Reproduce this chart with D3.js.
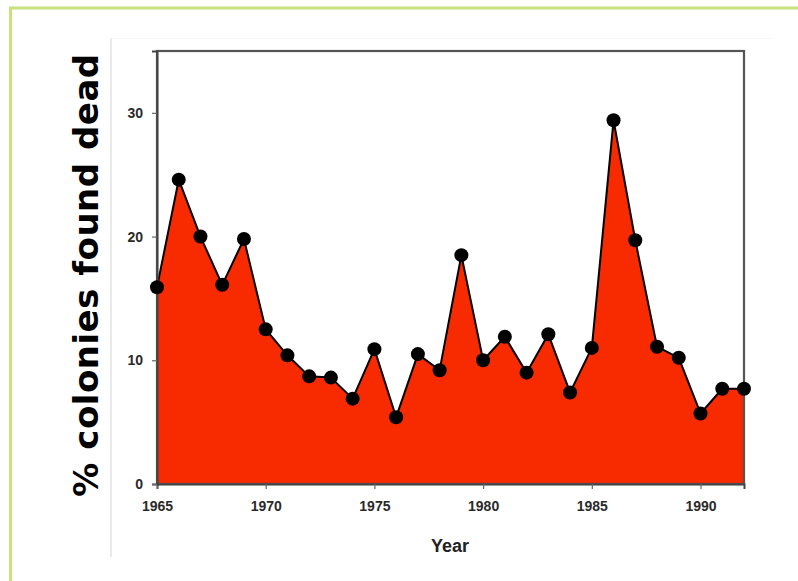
<!DOCTYPE html>
<html>
<head>
<meta charset="utf-8">
<script src="https://cdn.jsdelivr.net/npm/d3@7"></script>
<style>
  body { margin: 0; background: #fff; }
  svg { display: block; }
</style>
</head>
<body>
<div id="chart"></div>
<script>
// Data
const years = [1965, 1966, 1967, 1968, 1969, 1970, 1971, 1972, 1973, 1974,
               1975, 1976, 1977, 1978, 1979, 1980, 1981, 1982, 1983, 1984,
               1985, 1986, 1987, 1988, 1989, 1990, 1991, 1992];
const deadPct = [15.9, 24.6, 20.0, 16.1, 19.8, 12.5, 10.4, 8.7, 8.6, 6.9,
                 10.9, 5.4, 10.5, 9.2, 18.5, 10.0, 11.9, 9.0, 12.1, 7.4,
                 11.0, 29.4, 19.7, 11.1, 10.2, 5.7, 7.7, 7.7];
const xTicks = [1965, 1970, 1975, 1980, 1985, 1990];
const yTicks = [0, 10, 20, 30];

const W = 798, H = 581;
const margin = { top: 51, right: 54, bottom: 97, left: 157 };
const width = W - margin.left - margin.right;
const height = H - margin.top - margin.bottom;

const data = years.map((yr, i) => ({ year: yr, value: deadPct[i] }));

const svg = d3.select("#chart")
    .append("svg")
    .attr("width", W)
    .attr("height", H);

// outer green frame
svg.append("rect")
    .attr("x", 10.5)
    .attr("y", 8)
    .attr("width", W + 20)
    .attr("height", H + 20)
    .attr("fill", "none")
    .attr("stroke", "#c9e07e")
    .attr("stroke-width", 3);

// faint divider lines
svg.append("line")
    .attr("x1", 111).attr("x2", 111)
    .attr("y1", 38).attr("y2", 557)
    .attr("stroke", "#d4d4d4")
    .attr("stroke-width", 1);
svg.append("line")
    .attr("x1", 111).attr("x2", 773)
    .attr("y1", 38.5).attr("y2", 38.5)
    .attr("stroke", "#f6f6f6")
    .attr("stroke-width", 1);

const g = svg.append("g")
    .attr("transform", `translate(${margin.left},${margin.top})`);

const x = d3.scaleLinear()
    .domain([1965, 1992])
    .range([0, width]);

const y = d3.scaleLinear()
    .domain([0, 35])
    .range([height, 0]);

// Area
const area = d3.area()
    .x(d => x(d.year))
    .y0(y(0))
    .y1(d => y(d.value));

g.append("path")
    .datum(data)
    .attr("d", area)
    .attr("fill", "#f82a00");

const line = d3.line()
    .x(d => x(d.year))
    .y(d => y(d.value));

g.append("path")
    .datum(data)
    .attr("d", line)
    .attr("fill", "none")
    .attr("stroke", "#000")
    .attr("stroke-width", 2)
    .attr("stroke-linejoin", "round");

// plot frame
g.append("rect")
    .attr("x", 0)
    .attr("y", 0)
    .attr("width", width)
    .attr("height", height)
    .attr("fill", "none")
    .attr("stroke", "#555")
    .attr("stroke-width", 2.2);

// Eixo X
const xAxis = g.append("g")
    .attr("transform", `translate(0,${height})`)
    .call(d3.axisBottom(x)
        .tickValues(xTicks)
        .tickFormat(d3.format("d"))
        .tickSize(5)
        .tickPadding(12));

// Eixo Y
const yAxis = g.append("g")
    .call(d3.axisLeft(y)
        .tickValues(yTicks)
        .tickSize(5)
        .tickPadding(9));

[xAxis, yAxis].forEach(ax => {
    ax.select(".domain").attr("stroke", "#444").attr("stroke-width", 2);
    ax.selectAll(".tick line").attr("stroke", "#666").attr("stroke-width", 1.2);
    ax.selectAll("text")
        .attr("fill", "#2a2a2a")
        .style("font-family", "Liberation Sans, Arial, sans-serif")
        .style("font-weight", "bold")
        .style("font-size", "14px");
});

// points
g.selectAll(".dot")
    .data(data)
    .enter()
    .append("circle")
    .attr("class", "dot")
    .attr("cx", d => x(d.year))
    .attr("cy", d => y(d.value))
    .attr("r", 7)
    .attr("fill", "#000");

// Rótulo do Eixo X
svg.append("text")
    .attr("x", 450)
    .attr("y", 552)
    .attr("text-anchor", "middle")
    .style("font-family", "Liberation Sans, Arial, sans-serif")
    .style("font-weight", "bold")
    .style("font-size", "18px")
    .attr("fill", "#222")
    .text("Year");

// Rótulo do Eixo Y
svg.append("text")
    .attr("transform", "translate(98,275) rotate(-90)")
    .attr("text-anchor", "middle")
    .style("font-family", "DejaVu Sans, Verdana, sans-serif")
    .style("font-weight", "bold")
    .style("font-size", "34px")
    .style("letter-spacing", "0.5px")
    .attr("fill", "#000")
    .text("% colonies found dead");
</script>
</body>
</html>
